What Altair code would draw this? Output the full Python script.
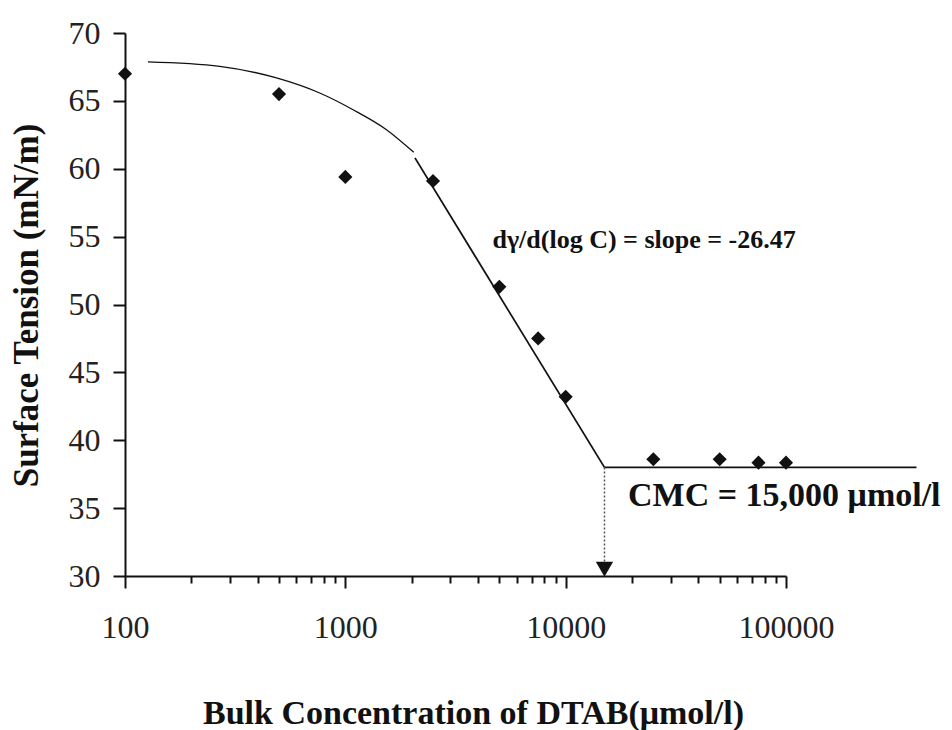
import altair as alt
import pandas as pd

# ---- data ----
conc = [100, 500, 1000, 2500, 5000, 7500, 10000, 25000, 50000, 75000, 100000]
tension = [67.0, 65.5, 59.4, 59.1, 51.3, 47.5, 43.2, 38.6, 38.6, 38.35, 38.35]

curve_x = [127, 269, 487, 765, 1084, 1537, 2045]
curve_y = [67.87, 67.54, 66.69, 65.58, 64.35, 62.88, 61.21]

steep_x = [2070, 15000]
steep_y = [60.8, 38.0]

flat_x = [15000, 391000]
flat_y = [38.0, 38.0]

cmc_x = [15000, 15000]
cmc_y = [38.0, 31.0]

arrow_x = [15000]
arrow_y = [30.5]

major_ticks = [100, 1000, 10000, 100000]
minor_ticks = [m * d for d in [100, 1000, 10000] for m in range(2, 10)]
y_ticks = [30, 35, 40, 45, 50, 55, 60, 65, 70]

slope_label = ["dγ/d(log C) = slope = -26.47"]
slope_pos = ([4654], [54.17])
cmc_label = ["CMC = 15,000 μmol/l"]
cmc_pos = ([19190], [35.15])

FONT = "Liberation Serif"
INK = "#111111"

xscale = alt.Scale(type="log", domain=[100, 100000], nice=False)
yscale = alt.Scale(domain=[30, 70], nice=False, zero=False)

major_test = " || ".join(f"datum.value == {v}" for v in major_ticks)

xaxis = alt.Axis(
    values=sorted(major_ticks + minor_ticks),
    labelExpr=f"({major_test}) ? format(datum.value, 'd') : ''",
    tickSize={"condition": {"test": major_test, "value": 12}, "value": 7},
    tickColor=INK, tickWidth=2,
    domainColor=INK, domainWidth=2,
    labelFont=FONT, labelFontSize=32, labelColor="#222222",
    labelPadding=24, labelBaseline="top",
    labelOverlap=False, labelFlush=False,
    grid=False,
    title="Bulk Concentration of DTAB(μmol/l)",
    titleFont=FONT, titleFontSize=34, titleFontWeight="bold", titleColor=INK,
    titleX=348, titleY=147, titleBaseline="alphabetic", titleAlign="center",
    titleAnchor="start",
)
yaxis = alt.Axis(
    values=y_ticks,
    tickSize=12, tickColor=INK, tickWidth=2,
    domainColor=INK, domainWidth=2,
    labelFont=FONT, labelFontSize=32, labelColor="#222222",
    labelPadding=13,
    grid=False,
    title="Surface Tension (mN/m)",
    titleFont=FONT, titleFontSize=35, titleFontWeight="bold", titleColor=INK,
    titleX=-88, titleY=272, titleBaseline="alphabetic", titleAlign="center",
    titleAngle=270,
)

pts = pd.DataFrame({"x": conc, "y": tension})
points = alt.Chart(pts).mark_point(
    shape="diamond", filled=True, size=200, color=INK, opacity=1
).encode(
    x=alt.X("x:Q", scale=xscale, axis=xaxis),
    y=alt.Y("y:Q", scale=yscale, axis=yaxis),
)

def line(xs, ys, width, dash=None, color=INK, interp="linear"):
    df = pd.DataFrame({"x": xs, "y": ys})
    kw = dict(color=color, strokeWidth=width, interpolate=interp)
    if dash:
        kw["strokeDash"] = dash
    return alt.Chart(df).mark_line(**kw).encode(
        x=alt.X("x:Q", scale=xscale), y=alt.Y("y:Q", scale=yscale)
    )

curve = line(curve_x, curve_y, 1.3, interp="monotone")
steep = line(steep_x, steep_y, 1.8)
flat = line(flat_x, flat_y, 1.8)
drop = line(cmc_x, cmc_y, 1.5, dash=[2, 2], color="#555555")

arrow = alt.Chart(pd.DataFrame({"x": arrow_x, "y": arrow_y})).mark_point(
    shape="triangle-down", filled=True, size=300, color=INK, opacity=1
).encode(x=alt.X("x:Q", scale=xscale), y=alt.Y("y:Q", scale=yscale))

slope_text = alt.Chart(
    pd.DataFrame({"x": slope_pos[0], "y": slope_pos[1], "t": slope_label})
).mark_text(
    font=FONT, fontSize=26, fontWeight="bold", align="left",
    baseline="alphabetic", color=INK,
).encode(x=alt.X("x:Q", scale=xscale), y=alt.Y("y:Q", scale=yscale), text="t:N")

cmc_text = alt.Chart(
    pd.DataFrame({"x": cmc_pos[0], "y": cmc_pos[1], "t": cmc_label})
).mark_text(
    font=FONT, fontSize=34, fontWeight="bold", align="left",
    baseline="alphabetic", color=INK,
).encode(x=alt.X("x:Q", scale=xscale), y=alt.Y("y:Q", scale=yscale), text="t:N")

chart = alt.layer(
    curve, steep, flat, drop, arrow, points, slope_text, cmc_text
).properties(
    width=661, height=543,
    autosize=alt.AutoSizeParams(type="none"),
    padding={"left": 125, "top": 33, "right": 166, "bottom": 154},
    background="white",
).configure_view(stroke=None)

chart.save("out.html", embed_options={"renderer": "svg", "actions": False})
